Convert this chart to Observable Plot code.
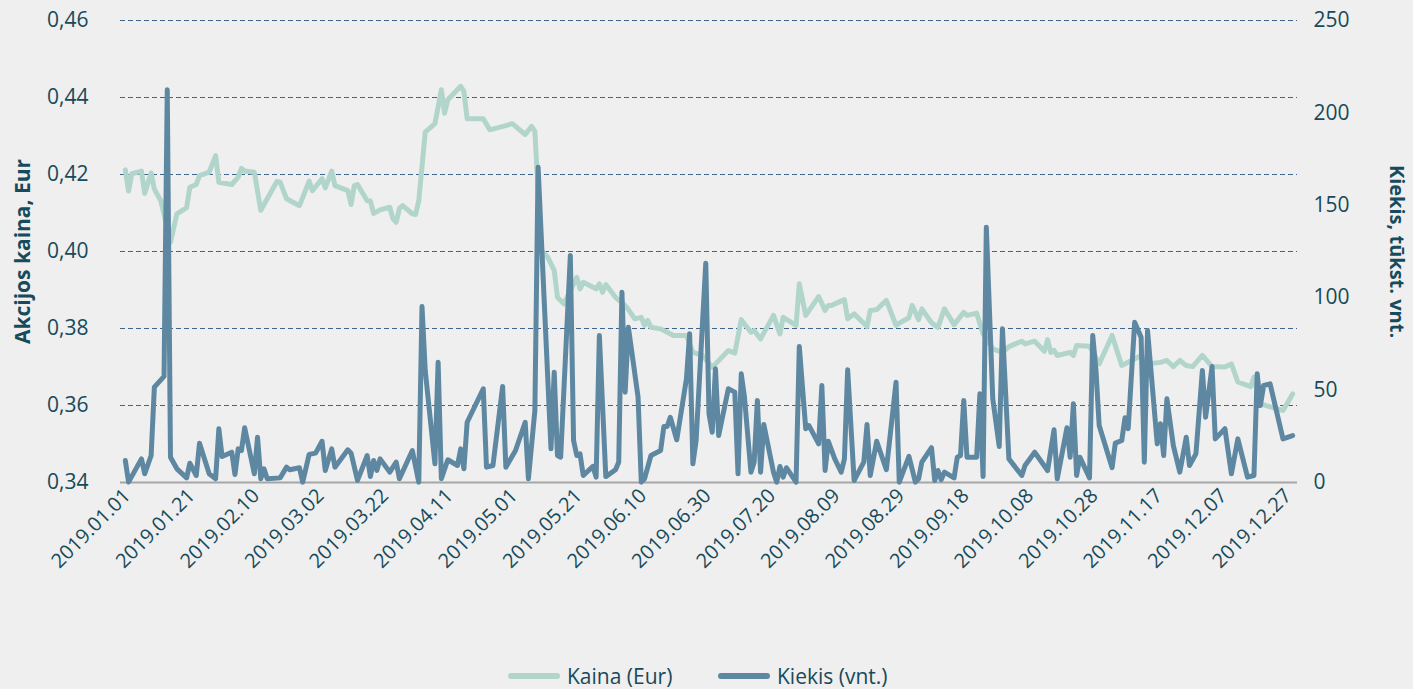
<!DOCTYPE html>
<html>
<head>
<meta charset="utf-8">
<script src="https://cdn.jsdelivr.net/npm/d3@7"></script>
<script src="https://cdn.jsdelivr.net/npm/@observablehq/plot@0.6"></script>
<style>
  html, body { margin: 0; padding: 0; background: #efefef; }
  body { font-family: "Open Sans", sans-serif; width: 1413px; height: 689px; overflow: hidden; position: relative; }
  #legend { position: absolute; top: 660px; left: 0; width: 1413px; height: 29px; }
  .item { position: absolute; top: 2px; display: flex; align-items: center; font-size: 21px; color: #174a5a; line-height: 28px; }
  .sw { width: 52px; height: 6px; border-radius: 3px; margin-right: 7px; }
</style>
</head>
<body>
<div id="chart"></div>
<div id="legend"></div>
<script>
// ---- Data (day of year: 0 = 2019-01-01) ----
const kainaDiena = [1,2,3,6,7,9,10,12,15,17,20,21,23,24,27,29,30,34,36,37,38,41,43,45,48,49,51,55,58,59,62,63,65,66,70,71,72,73,76,77,78,80,83,84,85,86,87,90,91,92,94,97,99,100,101,105,106,107,112,114,119,121,125,127,128,130,132,134,135,137,141,142,143,147,148,149,150,153,156,157,159,161,162,163,164,167,171,175,177,180,183,188,190,192,195,196,198,202,204,205,209,210,212,216,218,219,220,224,225,227,231,232,234,237,240,241,244,245,247,248,251,253,255,258,261,262,265,267,270,273,275,279,280,283,286,287,288,289,290,294,295,296,300,303,307,310,316,318,322,324,326,328,330,332,335,338,342,344,346,350,351,353,360,363];
const kaina = [0.4212,0.4157,0.4202,0.4209,0.4151,0.4204,0.4162,0.4132,0.4024,0.4098,
  0.4114,0.4167,0.4174,0.4197,0.4206,0.4249,0.418,0.4174,0.4193,0.4216,
  0.4209,0.4206,0.4107,0.4137,0.4182,0.418,0.4137,0.4119,0.4183,0.4158,
  0.4189,0.4165,0.4209,0.4171,0.4158,0.4122,0.4171,0.4174,0.4132,0.4131,
  0.4099,0.4108,0.4115,0.4085,0.4076,0.4112,0.4119,0.4098,0.4096,0.4132,
  0.431,0.4332,0.442,0.4359,0.4394,0.4429,0.4416,0.4345,0.4345,0.4316,
  0.4327,0.4332,0.4304,0.4325,0.4312,0.4003,0.3985,0.3951,0.3881,0.3864,
  0.3933,0.3903,0.392,0.3903,0.3916,0.3894,0.3914,0.3881,0.386,0.3849,
  0.3825,0.3829,0.3808,0.3821,0.3803,0.3799,0.3782,0.3782,0.3738,0.373,
  0.3699,0.3743,0.3736,0.3823,0.379,0.3795,0.3773,0.3834,0.3786,0.3829,
  0.3808,0.3916,0.3834,0.3883,0.3847,0.386,0.386,0.3875,0.3825,0.3838,
  0.3805,0.3847,0.3849,0.3873,0.3808,0.3814,0.3828,0.386,0.3823,0.3851,
  0.3815,0.3803,0.3851,0.381,0.3842,0.3834,0.384,0.3786,0.3747,0.3738,
  0.3753,0.3767,0.376,0.3767,0.3741,0.3771,0.3738,0.3743,0.373,0.3738,
  0.373,0.3756,0.3754,0.3708,0.3782,0.3704,0.373,0.3708,0.3712,0.3717,
  0.3701,0.3717,0.3704,0.3701,0.373,0.3701,0.37,0.3708,0.3661,0.3649,
  0.3674,0.3604,0.3587,0.363];
const kiekisDiena = [1,2,6,7,9,10,13,14,15,17,20,21,23,24,27,29,30,31,34,35,36,37,38,41,42,43,44,45,49,51,52,55,56,58,60,62,63,65,66,70,71,73,76,77,78,79,80,83,85,86,90,92,93,94,97,98,99,101,104,105,106,107,112,113,115,118,119,122,125,126,128,129,133,134,135,136,139,140,141,142,143,146,147,148,150,153,154,155,156,157,160,161,162,164,167,168,169,170,172,175,176,177,178,181,182,183,184,185,188,190,191,192,193,195,196,197,198,199,202,203,204,205,206,209,210,212,213,216,217,218,219,221,223,224,225,227,230,231,232,234,237,240,241,244,246,247,248,251,252,253,254,255,258,259,260,261,262,265,266,267,268,270,272,273,275,279,280,283,287,289,290,293,294,295,296,297,300,301,302,303,307,308,310,311,312,314,316,317,318,321,322,323,324,326,328,330,331,333,335,336,338,339,342,344,346,349,351,352,353,354,356,360,363];
const kiekis = [11.9,0.2,12.8,4.7,14.6,51.6,57.4,212.5,13.7,7.4,
  2.5,10.4,3.8,21.3,4.7,2,29.1,14.1,16.4,4.3,
  18.2,17.3,29.6,4.7,24.5,2,7.4,2,2.5,8.3,
  6.9,8,0.2,15.2,15.9,22.3,6.5,18.2,8.3,17.7,
  15.9,1.1,14.6,3.2,11.9,6.5,12.8,5.6,11,2,
  17.3,0.2,95.2,60.6,10.1,65.1,2,12.3,9.2,18.2,
  7.4,32.6,50.7,8.3,9.2,51.9,8.3,17.3,32.6,2,
  39,170.6,18.2,59.7,14.6,13.7,122.8,22.7,14.6,15.5,
  3.8,8.7,2.9,79.5,3.2,6.9,11,103,48.9,84,
  46.2,0.2,2,14.6,17.3,30.3,30.3,35.3,23.1,56.1,
  80.5,10.1,22.7,118.7,37.2,27.2,61.5,25.4,50.7,48.9,
  4.7,58.8,46.2,5.6,11,44.4,5.6,31.4,5.6,0.2,
  8.7,2.9,8,0.2,73.6,29.1,30.8,20.9,52.5,6.5,
  22.3,12.8,5.6,12.8,61,1.1,11,31.4,3.8,22.3,
  6.9,54.3,0.2,14.1,0.2,2,11,18.8,1.1,6.5,
  1.5,5.6,2.5,13.7,14.6,44.4,13.7,13.7,48,3.2,
  138.1,45.3,19.5,83.2,12.8,3.8,9.2,16.4,6.5,28.5,
  2,29.6,13.7,42.6,3.8,13.7,2.5,79.5,60.6,30.8,
  8,21.3,22.7,35,29.1,86.7,78.6,11,82.2,20.9,
  31.8,14.6,45.3,20,5.6,24.5,9.2,15.5,60.6,35.3,
  62.8,23.6,29.1,4.7,23.6,2.9,3.8,58.8,41.7,52.5,
  53.4,23.6,25.4];
const kainaTicks = [0.34, 0.36, 0.38, 0.40, 0.42, 0.44, 0.46];
const kiekisTicks = [0, 50, 100, 150, 200, 250];
const xTickStep = 20; // days between date labels
const seriesNames = ["Kaina (Eur)", "Kiekis (vnt.)"];
const yTitleLeft = "Akcijos kaina, Eur";
const yTitleRight = "Kiekis, tūkst. vnt.";

// ---- Build ----
const start = new Date(Date.UTC(2019, 0, 1));
const day = n => d3.utcDay.offset(start, n);
const priceData = kainaDiena.map((d, i) => ({date: day(d), v: kaina[i]}));
const volData = kiekisDiena.map((d, i) => ({date: day(d), v: kiekis[i]}));

const pMin = 0.34, pMax = 0.46, vMax = 250;
const toP = v => pMin + v / vMax * (pMax - pMin);
const fromP = p => (p - pMin) / (pMax - pMin) * vMax;

const xTicks = d3.range(0, 361, xTickStep).map(day);
const textColor = "#174a5a";
const cPrice = "#b2d5cb";
const cVol = "#5e88a1";

const chart = Plot.plot({
  width: 1413,
  height: 660,
  marginLeft: 120,
  marginRight: 116,
  marginTop: 20,
  marginBottom: 178,
  style: {background: "#efefef", color: textColor, fontFamily: "'Open Sans', sans-serif"},
  x: {type: "utc", domain: [new Date(Date.UTC(2018, 11, 31, 12)), new Date(Date.UTC(2019, 11, 31, 12))]},
  y: {domain: [pMin, pMax]},
  marks: [
    Plot.gridY(kainaTicks.slice(1), {stroke: "#3e6489", strokeOpacity: 1, strokeWidth: 1.2, strokeDasharray: "5,3"}),
    Plot.ruleY([pMin], {stroke: "#a6a6a6", strokeWidth: 2}),
    Plot.axisY({anchor: "left", ticks: kainaTicks, tickFormat: d => d.toFixed(2).replace(".", ","), tickSize: 0, tickPadding: 32, fontSize: 21, label: null}),
    Plot.axisY({anchor: "right", ticks: kiekisTicks.map(toP), tickFormat: p => String(Math.round(fromP(p))), tickSize: 0, tickPadding: 16, fontSize: 21, label: null}),
    Plot.axisX({ticks: xTicks, tickFormat: d3.utcFormat("%Y.%m.%d"), tickRotate: -45, tickSize: 0, tickPadding: 10, dx: 5, fontSize: 20, label: null}),
    Plot.lineY(priceData, {x: "date", y: "v", stroke: cPrice, strokeWidth: 5, strokeLinejoin: "round", strokeLinecap: "round"}),
    Plot.lineY(volData, {x: "date", y: d => toP(d.v), stroke: cVol, strokeWidth: 5, strokeLinejoin: "round", strokeLinecap: "round"}),
    Plot.text([yTitleLeft], {frameAnchor: "left", textAnchor: "middle", dx: -97, rotate: -90, fontSize: 21, fontWeight: "bold", fill: textColor}),
    Plot.text([yTitleRight], {frameAnchor: "right", textAnchor: "middle", dx: 99, rotate: 90, fontSize: 20, fontWeight: "bold", fill: textColor})
  ]
});
document.getElementById("chart").appendChild(chart);

const legend = document.getElementById("legend");
const lefts = [508, 718];
[cPrice, cVol].forEach((c, i) => {
  const it = document.createElement("div");
  it.className = "item";
  it.style.left = lefts[i] + "px";
  it.innerHTML = `<span class="sw" style="background:${c}"></span><span>${seriesNames[i]}</span>`;
  legend.appendChild(it);
});
</script>
</body>
</html>
